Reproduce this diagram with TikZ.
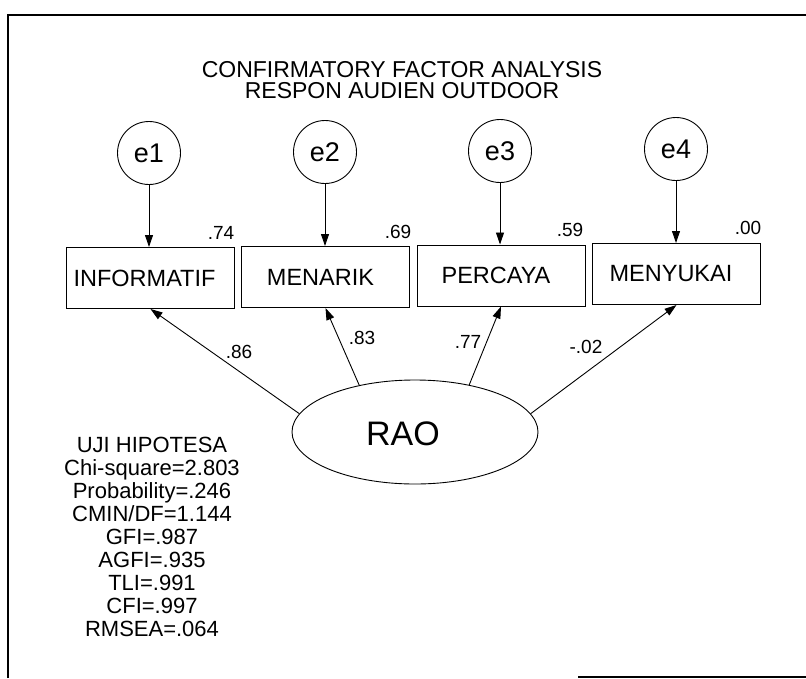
\documentclass[tikz,border=0pt]{standalone}
\usepackage{fontspec}
\setmainfont{Liberation Sans}
\usetikzlibrary{shapes.geometric,arrows.meta}
\begin{document}
\begin{tikzpicture}[x=1pt,y=-1pt,
  errc/.style={draw,circle,minimum size=63pt,inner sep=0pt,line width=0.9pt,font=\fontsize{27}{30}\selectfont},
  obsbox/.style={draw,rectangle,minimum width=168pt,minimum height=61pt,inner sep=0pt,line width=1pt,font=\fontsize{23.5}{28}\selectfont},
  latent/.style={draw,ellipse,minimum width=246pt,minimum height=104pt,inner sep=0pt,line width=0.9pt},
  lbl/.style={font=\fontsize{19}{22}\selectfont,inner sep=0pt},
  ttl/.style={font=\fontsize{23}{25}\selectfont,inner sep=0pt},
  arr/.style={-{Triangle[length=12pt,width=8pt]},line width=0.9pt},
  frameline/.style={line width=1.8pt}]
\useasboundingbox (0,0) rectangle (806,678);
% frame
\coordinate (fbl) at (8,678);
\coordinate (ftl) at (8,15);
\coordinate (ftr) at (806,15);
\coordinate (bl) at (578,677);
\coordinate (br) at (806,677);
\draw[frameline] (fbl) -- (ftl) -- (ftr);
\draw[line width=2pt] (bl) -- (br);
% title
\node[ttl] (title1) at (402,70) {CONFIRMATORY FACTOR ANALYSIS};
\node[ttl] (title2) at (402,91) {RESPON AUDIEN OUTDOOR};
% error terms
\node[errc] (e1) at (149,153) {e1};
\node[errc] (e2) at (325,152) {e2};
\node[errc] (e3) at (500,151) {e3};
\node[errc] (e4) at (676,149) {e4};
% observed
\node[obsbox] (inf) at (150.5,278) {INFORMATIF\kern12pt};
\node[obsbox] (men) at (325.5,277) {MENARIK\kern10pt};
\node[obsbox] (per) at (501,275.5) {PERCAYA\kern10pt};
\node[obsbox] (suk) at (676.5,274) {MENYUKAI\kern11pt};
% latent
\node[latent] (rao) at (415,432) {};
\node[font=\fontsize{34}{38}\selectfont,inner sep=0pt] (raotxt) at (403,434) {RAO};
% error arrows
\draw[arr] (e1.south) -- (e1.south |- inf.north);
\draw[arr] (e2.south) -- (e2.south |- men.north);
\draw[arr] (e3.south) -- (e3.south |- per.north);
\draw[arr] (e4.south) -- (e4.south |- suk.north);
% loadings
\draw[arr] (rao.171.7) -- (inf.south);
\draw[arr] (rao.140.5) -- (men.south);
\draw[arr] (rao.41.7) -- (per.south);
\draw[arr] (rao.9.3) -- (suk.south);
% labels
\node[lbl] (r1) at (221,233) {.74};
\node[lbl] (r2) at (398,232) {.69};
\node[lbl] (r3) at (570,230) {.59};
\node[lbl] (r4) at (748,228) {.00};
\node[lbl] (l1) at (239,352) {.86};
\node[lbl] (l2) at (362,338) {.83};
\node[lbl] (l3) at (468,342) {.77};
\node[lbl] (l4) at (586,347) {-.02};
% stats
\node[align=center,font=\fontsize{22}{23}\selectfont,inner sep=0pt] (stats) at (152,537)
  {UJI HIPOTESA\\Chi-square=2.803\\Probability=.246\\CMIN/DF=1.144\\GFI=.987\\AGFI=.935\\TLI=.991\\CFI=.997\\RMSEA=.064};
\end{tikzpicture}
\end{document}
